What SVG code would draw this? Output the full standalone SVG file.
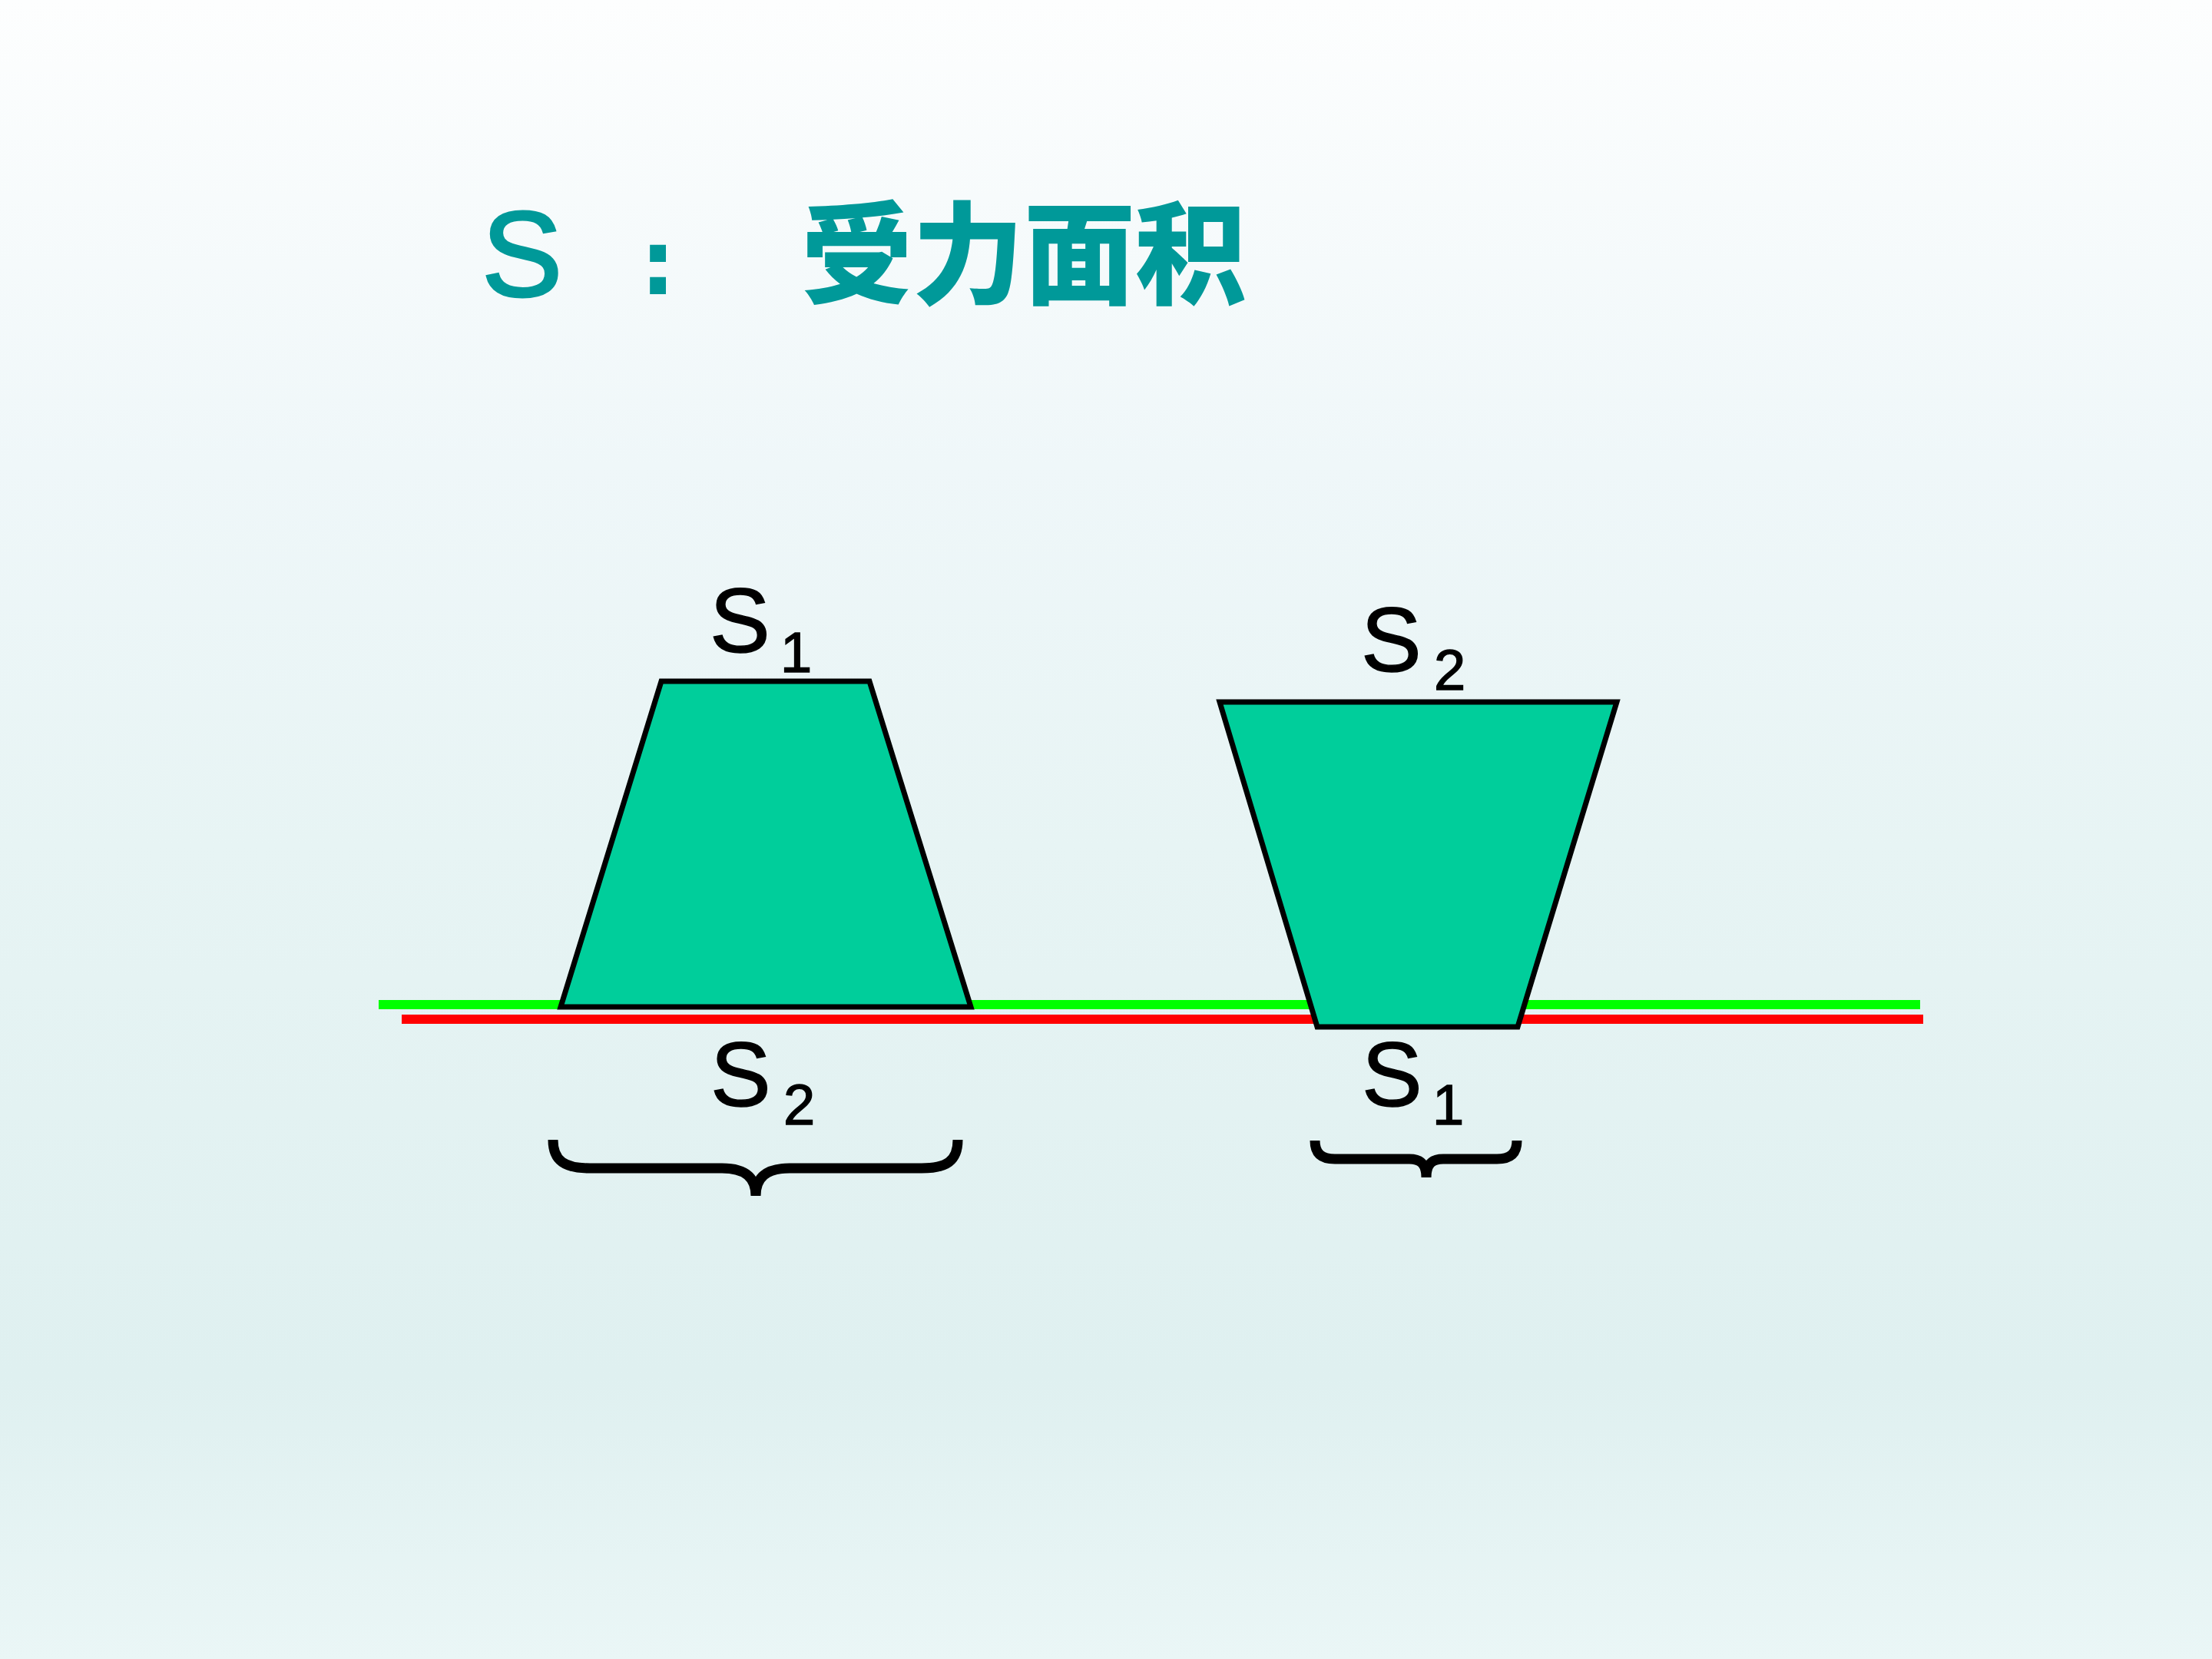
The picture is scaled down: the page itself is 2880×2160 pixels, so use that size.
<svg xmlns="http://www.w3.org/2000/svg" width="2880" height="2160" viewBox="0 0 2880 2160">
<defs>
<linearGradient id="bg" x1="0" y1="0" x2="0" y2="1">
<stop offset="0" stop-color="#FDFEFE"/>
<stop offset="0.28" stop-color="#EFF7F9"/>
<stop offset="0.51" stop-color="#E7F4F4"/>
<stop offset="0.83" stop-color="#DFF0F0"/>
<stop offset="1" stop-color="#EAF6F6"/>
</linearGradient>
<style>
.title{fill:#009999;font-family:"Liberation Sans","Noto Sans CJK SC",sans-serif;}
.ts{stroke:#009999;stroke-width:3;}
.colon{font-family:"DejaVu Sans",sans-serif;font-weight:700;}
.cjk{font-family:"Noto Sans CJK SC",sans-serif;font-weight:900;}
.lbl{fill:#000;stroke:#000;stroke-width:1.5;font-family:"Liberation Sans",Arial,sans-serif;font-size:118px;}
.sub{font-size:74px;}
.shape{fill:#00CE9B;stroke:#000;stroke-width:7;stroke-linejoin:miter;}
.brace{fill:none;stroke:#000;stroke-width:13;stroke-linecap:butt;}
</style>
</defs>
<rect width="2880" height="2160" fill="url(#bg)"/>
<g id="title">
<text class="title" y="385" font-size="158"><tspan class="ts" x="627">S</tspan><tspan class="colon" x="833" y="383" font-size="118">:</tspan><tspan class="cjk" x="1043" y="385" font-size="145">受力面积</tspan></text>
</g>
<g id="connectors">
<line x1="493" y1="1308" x2="2500" y2="1308" stroke="#00FF00" stroke-width="12"/>
<line x1="523" y1="1327" x2="2504" y2="1327" stroke="#FF0000" stroke-width="12"/>
</g>
<g id="trapezoid-left">
<polygon class="shape" points="861,887 1132,887 1264,1311 730,1311"/>
<text class="lbl" x="924" y="849">S<tspan class="sub" x="1016" y="875">1</tspan></text>
<text class="lbl" x="925" y="1440">S<tspan class="sub" x="1020" y="1464">2</tspan></text>
<path class="brace" d="M720,1484 C720,1512 736,1521 768,1521 L940,1521 C970,1521 984,1533 984,1557 M984,1557 C984,1533 998,1521 1028,1521 L1200,1521 C1232,1521 1247,1512 1247,1484"/>
</g>
<g id="trapezoid-right">
<polygon class="shape" points="1588,914 2105,914 1976,1337 1715,1337"/>
<text class="lbl" x="1772" y="874">S<tspan class="sub" x="1867" y="898">2</tspan></text>
<text class="lbl" x="1773" y="1440">S<tspan class="sub" x="1865" y="1464">1</tspan></text>
<path class="brace" d="M1712,1485 C1712,1502 1721,1509 1738,1509 L1835,1509 C1850,1509 1857,1516 1857,1533 M1857,1533 C1857,1516 1864,1509 1879,1509 L1949,1509 C1966,1509 1975,1502 1975,1485"/>
</g>
</svg>
